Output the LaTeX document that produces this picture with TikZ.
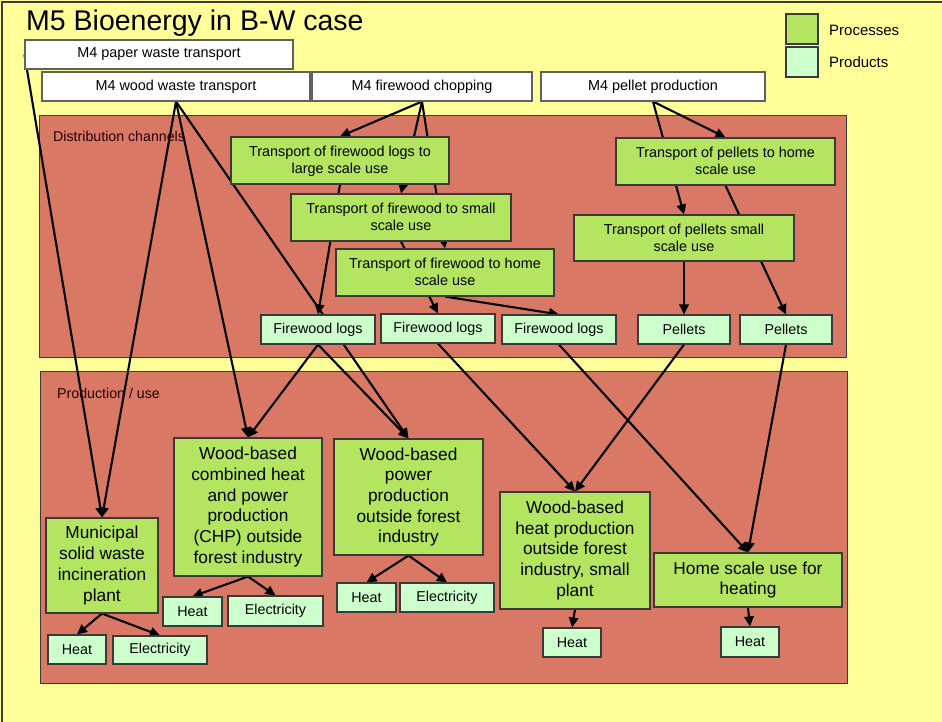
\documentclass[tikz,border=0pt]{standalone}
\usepackage{fontspec}
\setmainfont{Liberation Sans}
\usetikzlibrary{arrows.meta}
\pgfdeclarelayer{back}
\pgfdeclarelayer{edges}
\pgfsetlayers{back,edges,main}
\definecolor{bgyellow}{HTML}{FFFF99}
\definecolor{panelred}{HTML}{DA7866}
\definecolor{procgreen}{HTML}{B3E561}
\definecolor{prodgreen}{HTML}{CCFFCC}
\definecolor{bordergray}{HTML}{3A3A3A}
\newcommand\bx[7]{\node[#1, minimum width={(#5-#3)*1pt}, minimum height={(#6-#4)*1pt}] (#2) at ({(#3+#5)/2},{(#4+#6)/2}) {#7};}
\tikzset{
  basebox/.style={draw=bordergray, line width=1.1pt, inner sep=0pt, align=center, text=black},
  m4box/.style={basebox, fill=white, draw=bordergray!80, font=\fontsize{14.4}{17.3}\selectfont},
  transbox/.style={basebox, fill=procgreen, font=\fontsize{14.4}{17.3}\selectfont, text depth=1pt},
  procbox/.style={basebox, fill=procgreen, font=\fontsize{17.3}{20.7}\selectfont},
  prodbox/.style={basebox, fill=prodgreen, font=\fontsize{14.3}{17}\selectfont},
  legbox/.style={basebox},
  panel/.style={fill=panelred, draw=bordergray, line width=1pt},
  arr/.style={draw=black, line width=2.1pt, -{Triangle[length=10pt,width=9.5pt]}},
  paneltext/.style={anchor=west, inner sep=0pt, font=\fontsize{14.2}{17}\selectfont, text=black!85!red},
}
\begin{document}
\begin{tikzpicture}[x=1pt,y=-1pt]
\useasboundingbox (0,0) rectangle (942,722);
\begin{pgfonlayer}{back}
\fill[bgyellow] (0,0) rectangle (942,722);
\draw[bordergray, line width=1.2pt] (2,722) -- (2,2) -- (942,2);
\draw[panel] (39,116) rectangle (846,357);
\draw[panel] (40,371) rectangle (847,683);
\end{pgfonlayer}

% title and legend
\node[anchor=west, inner sep=0pt, font=\fontsize{28.5}{32}\selectfont] (title) at (26,23) {M5 Bioenergy in B-W case};
\bx{legbox, fill=procgreen}{legproc}{786}{14}{818}{44}{}
\bx{legbox, fill=prodgreen}{legprod}{786}{47}{818}{77}{}
\node[anchor=west, inner sep=0pt, font=\fontsize{15}{18}\selectfont] (legproct) at (829,30) {Processes};
\node[anchor=west, inner sep=0pt, font=\fontsize{15}{18}\selectfont] (legprodt) at (829,62) {Products};

% panel labels
\node[paneltext] (distlab) at (53,136) {Distribution channels};
\node[paneltext] (prodlab) at (57,393) {Production / use};

% M4 boxes
\bx{m4box}{pw}{25}{40}{293}{69}{M4 paper waste transport}
\bx{m4box}{ww}{42}{72}{310}{101}{M4 wood waste transport}
\bx{m4box}{fc}{312}{72}{532}{101}{M4 firewood chopping}
\bx{m4box}{pp}{541}{72}{765}{101}{M4 pellet production}

% transport boxes
\bx{transbox}{tl}{231}{137}{449}{184}{Transport of firewood logs to\\large scale use}
\bx{transbox}{ts}{291}{194}{511}{241}{Transport of firewood to small\\scale use}
\bx{transbox}{th}{336}{249}{554}{296}{Transport of firewood to home\\scale use}
\bx{transbox}{tph}{616}{138}{835}{185}{Transport of pellets to home\\scale use}
\bx{transbox}{tps}{574}{215}{794}{261}{Transport of pellets small\\scale use}

% intermediate products
\bx{prodbox}{fl1}{261}{315}{375}{344}{Firewood logs}
\bx{prodbox}{fl2}{381}{314}{495}{343}{Firewood logs}
\bx{prodbox}{fl3}{502}{315}{616}{344}{Firewood logs}
\bx{prodbox}{pel1}{638}{315}{730}{344}{Pellets}
\bx{prodbox}{pel2}{740}{315}{832}{344}{Pellets}

% production / use processes
\bx{procbox}{muni}{46}{518}{158}{613}{Municipal\\solid waste\\incineration\\plant}
\bx{procbox}{chp}{174}{438}{322}{576}{Wood-based\\combined heat\\and power\\production\\(CHP) outside\\forest industry}
\bx{procbox}{pow}{334}{439}{483}{555}{Wood-based\\power\\production\\outside forest\\industry}
\bx{procbox}{hp}{500}{492}{650}{609}{Wood-based\\heat production\\outside forest\\industry, small\\plant}
\bx{procbox}{home}{654}{553}{842}{607}{Home scale use for\\heating}

% outputs
\bx{prodbox}{muniheat}{48}{635}{106}{664}{Heat}
\bx{prodbox}{munielec}{113}{636}{207}{664}{Electricity}
\bx{prodbox}{chpheat}{163}{597}{222}{626}{Heat}
\bx{prodbox}{chpelec}{228}{596}{323}{626}{Electricity}
\bx{prodbox}{powheat}{337}{583}{396}{612}{Heat}
\bx{prodbox}{powelec}{400}{583}{494}{612}{Electricity}
\bx{prodbox}{hpheat}{543}{628}{601}{657}{Heat}
\bx{prodbox}{homeheat}{721}{627}{779}{657}{Heat}

\begin{pgfonlayer}{edges}
\draw[arr] (pw.west) -- (muni.north);
\draw[arr] (ww.south) -- (muni.north);
\draw[arr] (ww.south) -- (chp.north);
\draw[arr] (ww.south) -- (pow.north);
\draw[arr] (fc.south) -- (tl.north);
\draw[arr] (fc.south) -- (ts.north);
\draw[arr] (fc.south) -- (th.north);
\draw[arr] (tl.south) -- (fl1.north);
\draw[arr] (ts.south) -- (fl2.north);
\draw[arr] (th.south) -- (fl3.north);
\draw[arr] (pp.south) -- (tph.north);
\draw[arr] (pp.south) -- (tps.north);
\draw[arr] (tph.south) -- (pel2.north);
\draw[arr] (tps.south) -- (pel1.north);
\draw[arr] (fl1.south) -- (chp.north);
\draw[arr] (fl1.south) -- (pow.north);
\draw[arr] (fl2.south) -- (hp.north);
\draw[arr] (fl3.south) -- (home.north);
\draw[arr] (pel1.south) -- (hp.north);
\draw[arr] (pel2.south) -- (home.north);
\draw[arr] (muni.south) -- (muniheat.north);
\draw[arr] (muni.south) -- (munielec.north);
\draw[arr] (chp.south) -- (chpheat.north);
\draw[arr] (chp.south) -- (chpelec.north);
\draw[arr] (pow.south) -- (powheat.north);
\draw[arr] (pow.south) -- (powelec.north);
\draw[arr] (hp.south) -- (hpheat.north);
\draw[arr] (home.south) -- (homeheat.north);
\end{pgfonlayer}
\end{tikzpicture}
\end{document}
